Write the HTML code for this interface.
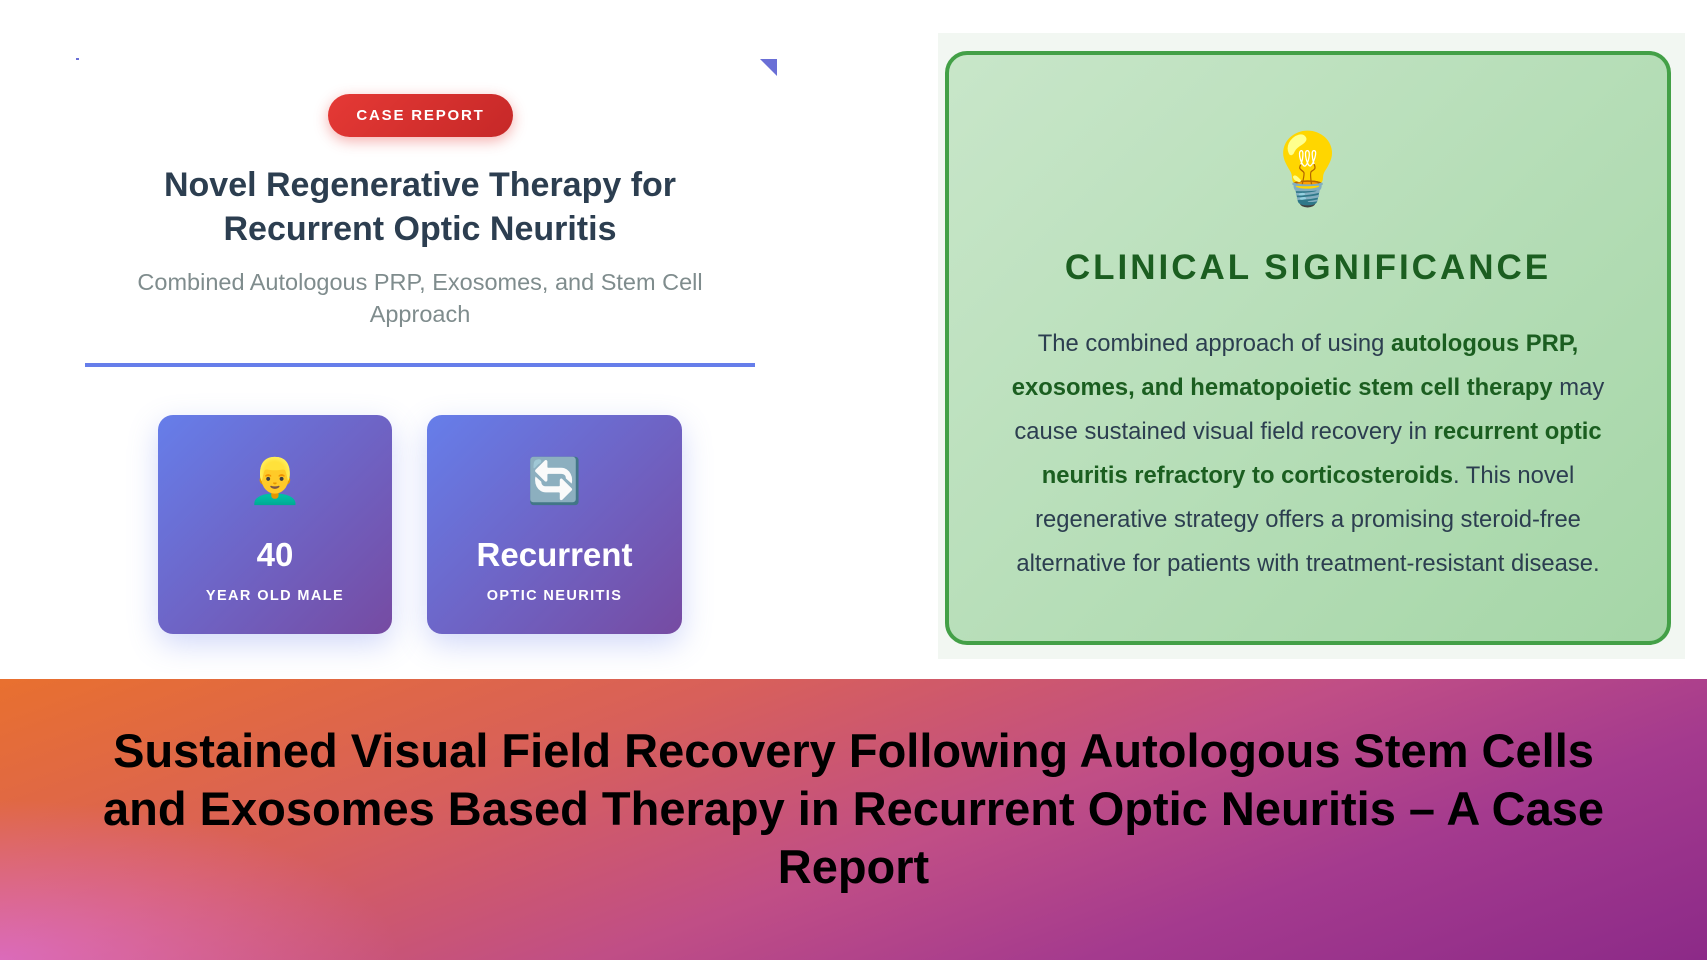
<!DOCTYPE html>
<html><head><meta charset="utf-8"><style>
*{margin:0;padding:0;box-sizing:border-box}
body{width:1707px;height:960px;background:#fff;position:relative;overflow:hidden;font-family:"Liberation Sans","Noto Sans CJK JP",sans-serif}
.abs{position:absolute}
.c{text-align:center;white-space:nowrap}
</style></head><body>
<div class="abs" style="left:760px;top:59px;width:17px;height:17px;background:#6a6fd6;clip-path:polygon(0 0,100% 0,100% 100%)"></div>
<div class="abs" style="left:76px;top:58px;width:3px;height:2px;background:#6a6fd6"></div>
<div class="abs c" style="left:328px;top:94px;width:185px;height:43px;border-radius:22px;background:linear-gradient(135deg,#e53935,#c62828);box-shadow:0 4px 14px rgba(229,57,53,.4);color:#fff;font-weight:bold;font-size:15px;letter-spacing:1.8px;line-height:43px">CASE REPORT</div>
<div class="abs c" style="left:85px;top:163px;width:670px;font-size:34px;font-weight:bold;color:#2c3e50;line-height:44px">Novel Regenerative Therapy for<br>Recurrent Optic Neuritis</div>
<div class="abs c" style="left:85px;top:266px;width:670px;font-size:23.5px;color:#7f8c8d;line-height:32px">Combined Autologous PRP, Exosomes, and Stem Cell<br>Approach</div>
<div class="abs" style="left:85px;top:363px;width:670px;height:4px;background:#667eea"></div>
<div class="abs" style="left:158px;top:415px;width:234px;height:219px;border-radius:15px;background:linear-gradient(135deg,#667eea,#764ba2);box-shadow:0 10px 30px rgba(102,126,234,.3)">
<div class="c" style="margin-top:40px;font-size:44px;line-height:54px">👱‍♂️</div>
<div class="c" style="margin-top:27px;font-size:33px;font-weight:bold;color:#fff;line-height:38px">40</div>
<div class="c" style="margin-top:14px;font-size:14.5px;font-weight:bold;color:#fff;letter-spacing:1.4px">YEAR OLD MALE</div></div>
<div class="abs" style="left:427px;top:415px;width:255px;height:219px;border-radius:15px;background:linear-gradient(135deg,#667eea,#764ba2);box-shadow:0 10px 30px rgba(102,126,234,.3)">
<div class="c" style="margin-top:40px;font-size:44px;line-height:54px">🔄</div>
<div class="c" style="margin-top:27px;font-size:33px;font-weight:bold;color:#fff;line-height:38px">Recurrent</div>
<div class="c" style="margin-top:14px;font-size:14.5px;font-weight:bold;color:#fff;letter-spacing:1.4px">OPTIC NEURITIS</div></div>
<div class="abs" style="left:938px;top:33px;width:747px;height:626px;background:#f2f7f2"></div>
<div class="abs" style="left:945px;top:51px;width:726px;height:594px;border:4px solid #43a047;border-radius:22px;background:linear-gradient(135deg,#c8e6c9,#a5d6a7)">
<div class="c" style="margin-top:72px;font-size:70px;line-height:84px">💡</div>
<div class="c" style="margin-top:37px;font-size:35px;font-weight:bold;color:#1b5e20;letter-spacing:3px;line-height:40px">CLINICAL SIGNIFICANCE</div>
<div class="c" style="margin-top:34px;font-size:23.8px;color:#2c3e50;line-height:44px">The combined approach of using <b style="color:#1b5e20">autologous PRP,</b><br><b style="color:#1b5e20">exosomes, and hematopoietic stem cell therapy</b> may<br>cause sustained visual field recovery in <b style="color:#1b5e20">recurrent optic</b><br><b style="color:#1b5e20">neuritis refractory to corticosteroids</b>. This novel<br>regenerative strategy offers a promising steroid-free<br>alternative for patients with treatment-resistant disease.</div></div>
<div class="abs" style="left:0;top:679px;width:1707px;height:281px;background:linear-gradient(160deg,#e8702f 0%,#d8605a 30%,#c04e86 55%,#a43a8e 75%,#8c2a88 100%)"></div>
<div class="abs" style="left:0;top:679px;width:1707px;height:281px;background:radial-gradient(ellipse 400px 160px at 0% 100%,rgba(220,110,210,.8),rgba(220,110,210,0))"></div>
<div class="abs c" style="left:0;top:722px;width:1707px;font-size:47px;font-weight:bold;color:#000;line-height:58px">Sustained Visual Field Recovery Following Autologous Stem Cells<br>and Exosomes Based Therapy in Recurrent Optic Neuritis – A Case<br>Report</div>
</body></html>
